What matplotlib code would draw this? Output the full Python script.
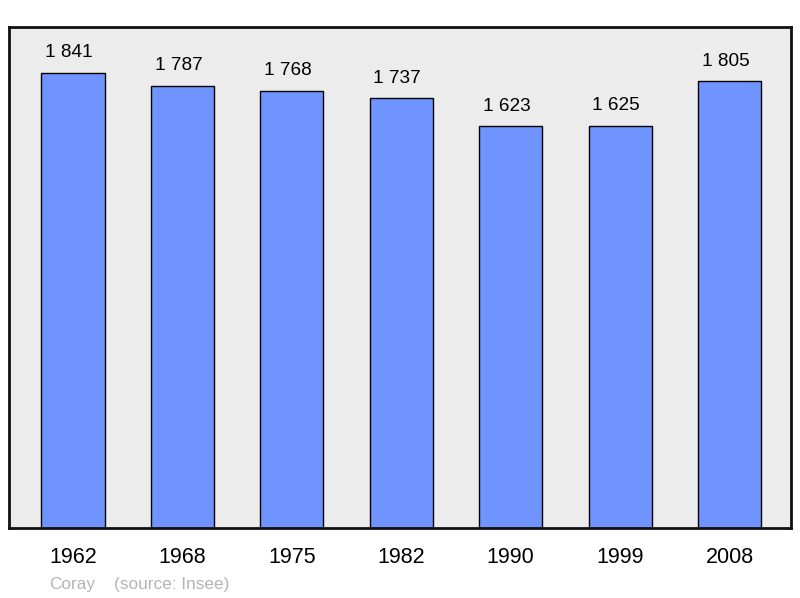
import matplotlib
matplotlib.use("Agg")
import matplotlib.pyplot as plt

years = ["1962", "1968", "1975", "1982", "1990", "1999", "2008"]
population = [1841, 1787, 1768, 1737, 1623, 1625, 1805]
value_labels = ["1 841", "1 787", "1 768", "1 737", "1 623", "1 625", "1 805"]

plt.rcParams['font.family'] = ['Liberation Sans', 'DejaVu Sans']

fig = plt.figure(figsize=(8.0, 5.98), dpi=100)
ax = fig.add_axes([9/800, 70/598, 782/800, 501/598])
ax.set_facecolor('#ececec')

x = list(range(len(years)))
ax.bar(x, population, width=0.576, color='#7094ff', edgecolor='black', linewidth=1.0, zorder=2)
for xi, v, lab in zip(x, population, value_labels):
    ax.annotate(lab, (xi, v), xytext=(-4, 20), textcoords='offset pixels',
                ha='center', va='center', fontsize=13.7, color='black')

ax.set_xlim(-0.585, 6.562)
ax.set_ylim(0, 2025)
ax.set_yticks([])
ax.set_xticks(x)
ax.set_xticklabels(years, fontsize=15.5)
ax.tick_params(axis='x', length=0, pad=14)
for s in ax.spines.values():
    s.set_linewidth(2)
    s.set_color('#111111')

fig.text(49/800, 1 - 585/598, "Coray", color='#b4b4b4', fontsize=12.4, va='center', ha='left')
fig.text(114/800, 1 - 585/598, "(source: Insee)", color='#b4b4b4', fontsize=12.4, va='center', ha='left')

fig.savefig("out.png", dpi=100)
